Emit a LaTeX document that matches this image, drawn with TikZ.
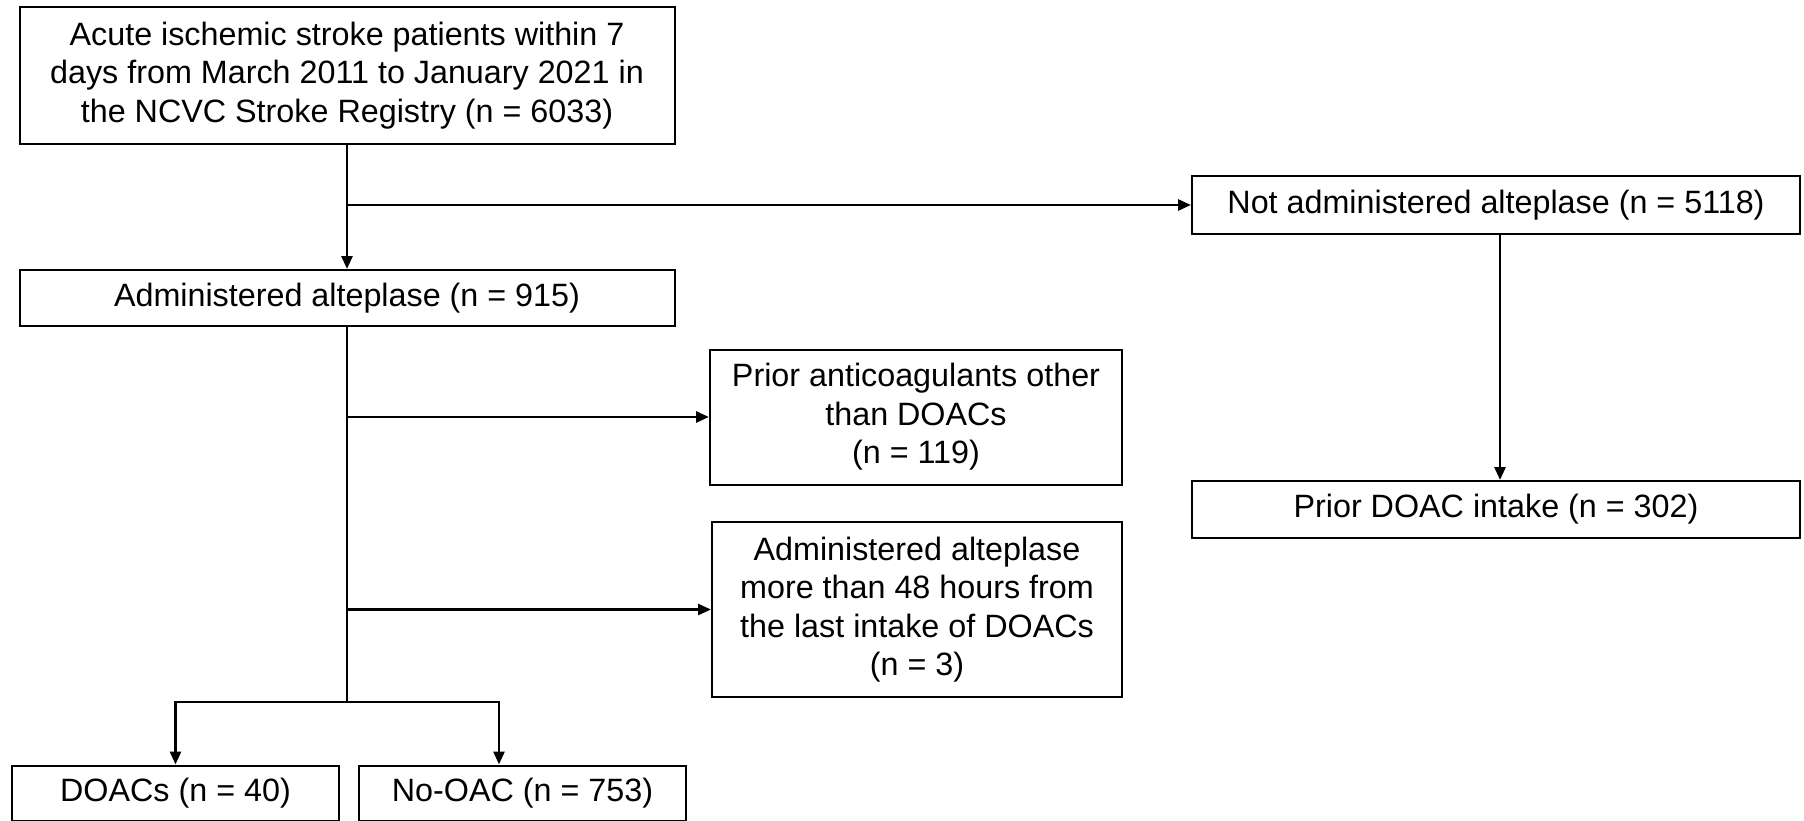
\documentclass[tikz,border=0pt]{standalone}
\usepackage{fontspec}
\setmainfont{Liberation Sans}
\usetikzlibrary{arrows.meta}
\begin{document}
\begin{tikzpicture}[x=1pt,y=-1pt,
  box/.style={draw=black,line width=2pt,inner sep=0pt,align=center,
    font=\fontsize{32.3}{38.5}\selectfont},
  conn/.style={line width=2.7pt,draw=black},
  arr/.style={conn,-{Triangle[length=13pt,width=11pt]}}]
\useasboundingbox (0,0) rectangle (1804,821);
\fill[white] (0,0) rectangle (1804,821);
\node[box,minimum width=655pt,minimum height=137pt] (top) at (347,75.5)
  {Acute ischemic stroke patients within 7\\days from March 2011 to January 2021 in\\the NCVC Stroke Registry (n = 6033)};
\node[box,minimum width=655pt,minimum height=56pt] (admin) at (347,298)
  {Administered alteplase (n = 915)};
\node[box,minimum width=608pt,minimum height=57pt] (notadm) at (1496,205)
  {Not administered alteplase (n = 5118)};
\node[box,minimum width=608pt,minimum height=57pt] (priordoac) at (1496,509.5)
  {Prior DOAC intake (n = 302)};
\node[box,minimum width=412pt,minimum height=135pt] (anticoag) at (916,417)
  {Prior anticoagulants other\\than DOACs\\(n = 119)};
\node[box,minimum width=410pt,minimum height=175pt] (adm48) at (917,609.5)
  {Administered alteplase\\more than 48 hours from\\the last intake of DOACs\\(n = 3)};
\node[box,minimum width=327pt,minimum height=55pt] (doacs) at (175.5,793)
  {DOACs (n = 40)};
\node[box,minimum width=327pt,minimum height=55pt] (nooac) at (522.5,793)
  {No-OAC (n = 753)};
\coordinate (split) at (347,702);
\coordinate (splitL) at (175.5,702);
\coordinate (splitR) at (499,702);
\draw[arr] (top) -- (admin);
\draw[arr] (top.south |- notadm.west) -- (notadm.west);
\draw[arr] (notadm.south -| 1500,0) -- (priordoac.north -| 1500,0);
\draw[conn] (admin.south) -- (split);
\draw[arr] (admin.south |- anticoag.west) -- (anticoag.west);
\draw[arr] (admin.south |- adm48.west) -- (adm48.west);
\draw[conn] ([xshift=-1.35pt]splitL) -- ([xshift=1.35pt]splitR);
\draw[arr] (splitL) -- (doacs.north);
\draw[arr] (splitR) -- (splitR |- nooac.north);
\end{tikzpicture}
\end{document}
